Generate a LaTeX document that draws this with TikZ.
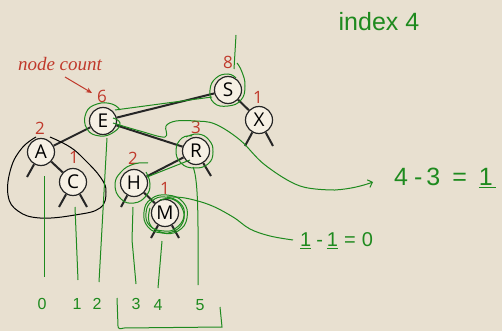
\documentclass[tikz,border=0pt]{standalone}
\usepackage{fontspec}
\setmainfont{Liberation Serif}
\newfontfamily\nodefont{Open Sans}
\newfontfamily\handfont{Liberation Sans}
\usetikzlibrary{arrows.meta}
\definecolor{bg}{HTML}{E8E0D0}
\definecolor{nodefill}{HTML}{F6F0E4}
\definecolor{cnt}{HTML}{C0392B}
\definecolor{hand}{HTML}{1E8A1E}
\begin{document}
\begin{tikzpicture}[x=1pt,y=-1pt,
 bst/.style={circle,draw=black!85,line width=1.2pt,fill=nodefill,minimum size=27pt,inner sep=0pt,font=\nodefont\fontsize{19}{19}\selectfont},
 edge/.style={line width=2pt,draw=black!85},
 cntlab/.style={text=cnt,font=\nodefont\fontsize{17}{17}\selectfont},
 ink/.style={draw=hand,line width=1pt},
 handtext/.style={text=hand,font=\handfont\fontsize{16}{16}\selectfont},
 digit/.style={text=hand,font=\handfont\fontsize{16}{16}\selectfont},
 blob/.style={draw=black,line width=1pt}
]
\fill[bg] (0,0) rectangle (502,331);
\useasboundingbox (0,0) rectangle (502,331);

% tree nodes
\node[bst] (S) at (228,90) {S};
\node[bst] (X) at (259,120) {X};
\node[bst] (E) at (103,121) {E};
\node[bst] (A) at (41,152) {A};
\node[bst] (C) at (73,182) {C};
\node[bst] (R) at (196,151) {R};
\node[bst] (H) at (134,183) {H};
\node[bst] (M) at (165,213) {M};

% edges
\draw[edge] (S) -- (E);
\draw[edge] (S) -- (X);
\draw[edge] (E) -- (A);
\draw[edge] (E) -- (R);
\draw[edge] (A) -- (C);
\draw[edge] (R) -- (H);
\draw[edge] (H) -- (M);

% null stubs
\coordinate (a1) at (27,177);
\coordinate (c1) at (59,207);
\coordinate (c2) at (87,207);
\coordinate (h1) at (121,207);
\coordinate (r1) at (211,176);
\coordinate (x1) at (245,146);
\coordinate (x2) at (273,146);
\coordinate (m1) at (151,238);
\coordinate (m2) at (179,238);
\draw[edge] (A) -- (a1);
\draw[edge] (C) -- (c1);
\draw[edge] (C) -- (c2);
\draw[edge] (H) -- (h1);
\draw[edge] (R) -- (r1);
\draw[edge] (X) -- (x1);
\draw[edge] (X) -- (x2);
\draw[edge] (M) -- (m1);
\draw[edge] (M) -- (m2);

% counts
\node[cntlab] (n8) at (228,62) {8};
\node[cntlab] (n1x) at (258,97) {1};
\node[cntlab] (n6) at (102,96) {6};
\node[cntlab] (n2a) at (40,128) {2};
\node[cntlab] (n1c) at (74,157) {1};
\node[cntlab] (n3) at (196,127) {3};
\node[cntlab] (n2h) at (133,158) {2};
\node[cntlab] (n1m) at (165,188) {1};

% node count label
\node[text=cnt,font=\itshape\fontsize{19}{19}\selectfont] (nc) at (60,64) {node count};
\coordinate (ncend) at (92,93);
\draw[cnt,line width=1pt,-{Stealth[length=6pt,width=5pt]}] (65,77) -- (ncend);

% black blob around A,C
\draw[blob] plot[smooth,tension=0.7] coordinates {(36,137) (22,148) (11,168) (8,195) (18,211) (40,218) (75,215) (100,208) (106,192) (101,178) (85,160) (70,147) (50,137)};

% green loops around nodes
\draw[ink] plot[smooth,tension=0.8] coordinates {(120,110) (112,104) (97,104) (86,113) (87,129) (100,136) (114,132) (120,123) (113,118)};
\draw[ink] plot[smooth,tension=0.8] coordinates {(237,63) (242,72) (245,86) (241,100) (228,106) (214,103) (210,90) (216,78) (228,74) (236,78)};
\draw[ink] plot[smooth,tension=0.8] coordinates {(186,137) (198,134) (209,140) (213,152) (208,164) (194,168) (181,163) (176,150) (182,138) (192,136)};
\draw[ink] plot[smooth,tension=0.8] coordinates {(148,163) (134,164) (121,172) (115,185) (121,199) (134,203) (146,196) (150,184) (146,172)};
\draw[ink] plot[smooth cycle,tension=0.8] coordinates {(165,197) (180,203) (184,216) (176,228) (164,231) (150,226) (146,213) (152,201)};
\draw[ink] plot[smooth cycle,tension=0.8] coordinates {(167,195) (183,202) (187,218) (178,231) (162,233) (148,227) (144,212) (151,199)};
\draw[ink] plot[smooth,tension=0.8] coordinates {(160,200) (172,199) (182,208) (183,222) (172,232) (158,231) (149,222) (150,208)};

% green lines along edges
\draw[ink] (E) ++(12,-11) -- (212,97);
\draw[ink] (147,177) -- (190,160);
\draw[ink] plot[smooth,tension=0.6] coordinates {(113,123) (140,131) (165,137) (166,126) (176,121) (195,121) (215,124) (240,140) (265,165) (300,186) (335,190)};
\coordinate (arr1) at (373,182);
\draw[ink,-{Straight Barb[length=4pt]}] (335,190) .. controls (350,189) and (362,186) .. (arr1);
\draw[ink] plot[smooth,tension=0.6] coordinates {(167,197) (185,198) (210,205) (233,217) (250,229) (270,236) (293,240)};

% vertical index lines
\draw[ink] (236,35) -- (234,69);
\draw[ink] (44,176) -- (44,277);
\draw[ink] (75,207) -- (78,280);
\draw[ink] (107,138) -- (99,282);
\draw[ink] (133,207) -- (132,240) -- (136,284);
\draw[ink] (162,241) -- (158,288);
\draw[ink] (193,167) .. controls (199,180) and (198,230) .. (198,285);

% indices
\node[digit] (i0) at (42,304) {0};
\node[digit] (i1) at (77,304) {1};
\node[digit] (i2) at (97,304) {2};
\node[digit] (i3) at (136,304) {3};
\node[digit] (i4) at (158,305) {4};
\node[digit] (i5) at (200,305) {5};
\draw[ink] (117,298) -- (118,326) .. controls (118,329) and (120,329) .. (124,328) -- (222,327) -- (220,307);

% annotations
\node[handtext,font=\handfont\fontsize{25}{25}\selectfont] (idx) at (379,22) {index 4};
\node[handtext,anchor=west,inner sep=0pt,font=\handfont\fontsize{25}{25}\selectfont] (eq1) at (394,178) {4\hspace{6pt}-\hspace{4pt}3\hspace{12pt}=\hspace{12pt}\underline{1\hspace{3pt}}};
\node[handtext,anchor=west,inner sep=0pt,font=\handfont\fontsize{20}{20}\selectfont] (eq2) at (300,241) {\underline{1}\hspace{5pt}-\hspace{4pt}\underline{1}\hspace{6pt}=\hspace{6pt}0};
\end{tikzpicture}
\end{document}
